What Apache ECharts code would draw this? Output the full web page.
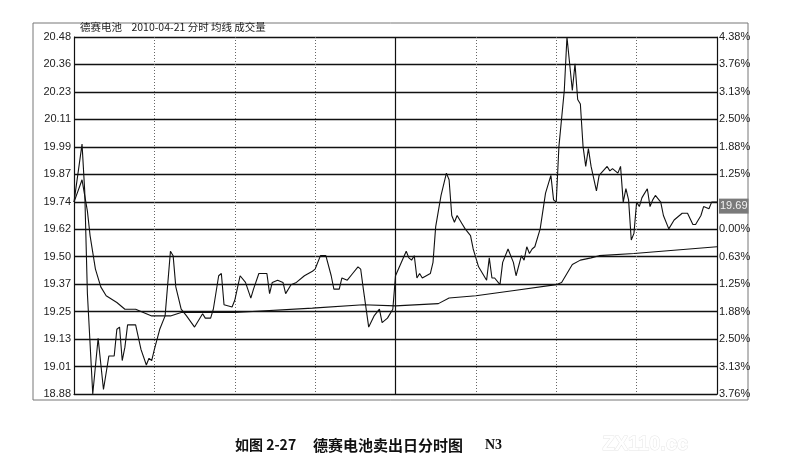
<!DOCTYPE html>
<html>
<head>
<meta charset="utf-8">
<script src="https://cdn.jsdelivr.net/npm/echarts@6/dist/echarts.min.js"></script>
<style>
html,body{margin:0;padding:0;background:#fff;}
#chart{width:792px;height:472px;}
</style>
</head>
<body>
<div id="chart"></div>
<script>
// ---- data ----
const chartTitle = '德赛电池    2010-04-21 分时 均线 成交量';
const captionA = '如图 2-27';
const captionB = '德赛电池卖出日分时图';
const captionC = 'N3';
const watermark = 'ZX110.cc';
const lastPriceLabel = '19.69';

// left tick labels, bottom to top
const leftTickLabels = ['18.88','19.01','19.13','19.25','19.37','19.50','19.62','19.74','19.87','19.99','20.11','20.23','20.36','20.48'];
// right tick labels, bottom to top ('' = slot covered by the last-price box)
const rightTickLabels = ['3.76%','3.13%','2.50%','1.88%','1.25%','0.63%','0.00%','','1.25%','1.88%','2.50%','3.13%','3.76%','4.38%'];
const priceMin = 18.88;
const priceMax = 20.48;
const sessionMinutes = 240;
const sectionMinutes = 30;

// price line (minute of session, price)
const priceMinutes = [0,3,4,5,7,9,11,13,15,16,17,18,19,20,23,25,27,28,29,30,32,34,36,37,38,40,42,45,48,49,51,52,54,55,56,59,60,62,64,66,67,69,72,73,74,76,78,79,81,83,86,89,90,92,94,96,97,99,100,102,104,106,107,108,110,112,114,115,117,119,120,124,125,126,127,128,129,130,133,134,135,137,139,140,141,142,143,145,146,148,149,150,151,154,155,156,157,159,160,162,164,165,167,168,169,170,171,172,174,176,178,179,180,181,183,184,185,186,187,188,189,190,191,192,193,195,196,199,200,201,203,204,205,206,207,208,209,210,211,212,214,215,216,217,219,220,222,224,227,229,231,232,234,235,237,238,240];
const prices = [19.74,20.00,19.79,19.33,18.88,19.13,18.90,19.05,19.05,19.17,19.18,19.03,19.09,19.19,19.19,19.08,19.01,19.04,19.03,19.08,19.17,19.23,19.52,19.50,19.36,19.26,19.23,19.18,19.24,19.22,19.22,19.26,19.41,19.42,19.28,19.27,19.30,19.41,19.38,19.31,19.35,19.42,19.42,19.33,19.38,19.39,19.38,19.33,19.37,19.38,19.41,19.43,19.44,19.50,19.50,19.41,19.35,19.35,19.40,19.39,19.42,19.45,19.44,19.35,19.18,19.23,19.26,19.20,19.22,19.26,19.41,19.52,19.49,19.48,19.50,19.40,19.42,19.40,19.42,19.47,19.63,19.77,19.87,19.84,19.68,19.65,19.68,19.64,19.62,19.59,19.53,19.49,19.45,19.39,19.49,19.40,19.40,19.37,19.47,19.53,19.47,19.41,19.50,19.48,19.54,19.51,19.53,19.54,19.62,19.78,19.86,19.75,19.74,19.99,20.24,20.48,20.36,20.24,20.36,20.20,20.18,19.99,19.90,19.98,19.90,19.79,19.86,19.90,19.88,19.89,19.87,19.90,19.74,19.80,19.75,19.57,19.60,19.74,19.72,19.76,19.80,19.72,19.75,19.77,19.74,19.68,19.62,19.66,19.69,19.69,19.64,19.64,19.68,19.72,19.71,19.74,19.74];

// average-price line
const avgMinutes = [0,3,5,6,8,10,12,16,19,23,29,33,36,40,60,89,108,120,136,140,150,165,180,182,184,186,189,193,196,209,240];
const avgPrices = [19.74,19.84,19.70,19.59,19.44,19.36,19.32,19.29,19.26,19.26,19.23,19.23,19.23,19.245,19.245,19.265,19.28,19.275,19.285,19.31,19.32,19.345,19.37,19.38,19.42,19.46,19.48,19.49,19.50,19.51,19.54];

const pricePairs = priceMinutes.map((m, i) => [m, prices[i]]);
const avgPairs = avgMinutes.map((m, i) => [m, avgPrices[i]]);

const chart = echarts.init(document.getElementById('chart'));
const labelFont = '"Liberation Sans", Arial, sans-serif';
chart.setOption({
  animation: false,
  backgroundColor: '#fff',
  title: [{
    text: chartTitle,
    left: 80, top: 22,
    padding: 0,
    textStyle: {fontSize: 10.5, fontWeight: 'normal', color: '#222', fontFamily: '"Noto Sans CJK SC", sans-serif'}
  }],
  grid: {left: 74, right: 75, top: 37, height: 357, containLabel: false},
  xAxis: [{
    type: 'value', min: 0, max: sessionMinutes, interval: sectionMinutes,
    axisLabel: {show: false}, axisTick: {show: false},
    axisLine: {show: true, lineStyle: {color: '#111', width: 1.2}},
    splitLine: {show: true, lineStyle: {color: '#666', type: [1, 2], width: 1}}
  }],
  yAxis: [{
    type: 'category', position: 'left', boundaryGap: false, data: leftTickLabels,
    axisTick: {show: false},
    axisLine: {show: true, lineStyle: {color: '#111', width: 1.2}},
    axisLabel: {interval: 0, margin: 3, color: '#222', fontSize: 11, fontFamily: labelFont},
    splitLine: {show: true, interval: 0, lineStyle: {color: '#111', width: 1.3}}
  }, {
    type: 'category', position: 'right', boundaryGap: false, data: rightTickLabels,
    axisTick: {show: false},
    axisLine: {show: true, lineStyle: {color: '#111', width: 1.2}},
    axisLabel: {interval: 0, margin: 2, color: '#222', fontSize: 11, fontFamily: labelFont},
    splitLine: {show: false}
  }, {
    type: 'value', min: priceMin, max: priceMax, show: false, splitLine: {show: false}
  }],
  series: [{
    type: 'line', name: 'price', xAxisIndex: 0, yAxisIndex: 2,
    data: pricePairs, showSymbol: false, symbol: 'none',
    lineStyle: {color: '#111', width: 1.1},
    endLabel: {
      show: true, formatter: lastPriceLabel, distance: 2, offset: [0, 4],
      backgroundColor: '#7a7a7a', color: '#f2f2f2', fontSize: 11, fontFamily: labelFont,
      padding: [2, 1, 2, 1]
    },
    z: 3
  }, {
    type: 'line', name: 'avg', xAxisIndex: 0, yAxisIndex: 2,
    data: avgPairs, showSymbol: false, symbol: 'none',
    lineStyle: {color: '#111', width: 1.1},
    markLine: {
      silent: true, symbol: 'none', label: {show: false},
      lineStyle: {color: '#111', type: 'solid', width: 1.2},
      data: [{xAxis: sessionMinutes / 2}]
    },
    z: 3
  }],
  graphic: [{
    type: 'rect', z: -1,
    shape: {x: 33, y: 23, width: 715, height: 377},
    style: {fill: 'none', stroke: '#777', lineWidth: 1}
  }, {
    type: 'text', left: 235, top: 438,
    style: {text: captionA, font: 'bold 14px "Noto Sans CJK SC", serif', fill: '#111'}
  }, {
    type: 'text', left: 313, top: 438,
    style: {text: captionB, font: 'bold 15px "Noto Sans CJK SC", serif', fill: '#111'}
  }, {
    type: 'text', left: 485, top: 438,
    style: {text: captionC, font: 'bold 14px "Liberation Serif", serif', fill: '#111'}
  }, {
    type: 'text', left: 602, top: 434,
    style: {text: watermark, font: 'bold 20px "Liberation Sans", sans-serif', fill: '#fff', stroke: '#e6e6e6', lineWidth: 1}
  }]
});
</script>
</body>
</html>
